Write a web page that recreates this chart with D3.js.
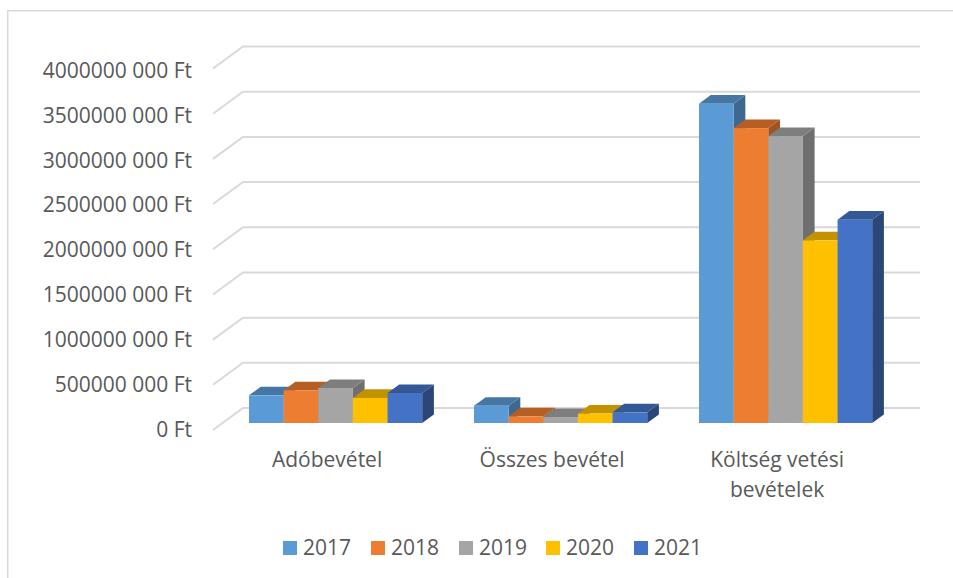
<!DOCTYPE html>
<html>
<head>
<meta charset="utf-8">
<script src="https://cdn.jsdelivr.net/npm/d3@7"></script>
<style>
  html, body { margin: 0; padding: 0; background: #fff; }
  text { font-family: "Open Sans", sans-serif; fill: #595959; }
</style>
</head>
<body>
<div id="chart"></div>
<script>
var categories = [['Adóbevétel'], ['Összes bevétel'], ['Költség vetési', 'bevételek']]
var years      = ['2017', '2018', '2019', '2020', '2021']
var colors     = ['#5b9bd5', '#ed7d31', '#a5a5a5', '#ffc000', '#4472c4']
var topColors  = ['#4676a3', '#b55f25', '#7e7e7e', '#c29200', '#345796']
var sideColors = ['#3e6890', '#a05321', '#6f6f6f', '#ab8100', '#2c4677']

var values2017 = [306000000, 190000000, 3533000000]
var values2018 = [362000000, 74000000, 3263000000]
var values2019 = [387000000, 66000000, 3175000000]
var values2020 = [277000000, 104000000, 2021000000]
var values2021 = [332000000, 118000000, 2250000000]
var allValues  = [values2017, values2018, values2019, values2020, values2021]

var tickValues = [0, 500000000, 1000000000, 1500000000, 2000000000, 2500000000, 3000000000, 3500000000, 4000000000]

var width = 953
var height = 578

var svg = d3.select('#chart')
  .append('svg')
    .attr('width', width)
    .attr('height', height)
    .style('display', 'block')

// frame, only top and left are visible in the picture
svg.append('path')
  .attr('d', 'M7.75,578V10.75H953')
  .attr('fill', 'none')
  .attr('stroke', '#d9d9d9')
  .attr('stroke-width', 1.5)

var yBack  = d3.scaleLinear().domain([0, 4000000000]).range([408, 46.5])
var yFront = d3.scaleLinear().domain([0, 4000000000]).range([430, 68.5])
var yBar   = d3.scaleLinear().domain([0, 4000000000]).range([423, 61.5])
var yLabel = d3.scaleLinear().domain([0, 4000000000]).range([436.5, 78])

var x0 = d3.scaleBand().domain(d3.range(categories.length)).range([223.5, 898.5])
var x1 = d3.scaleBand().domain(d3.range(years.length)).range([25.5, 198.7])

// gridlines: floor/wall fold then the back wall
tickValues.forEach(function(t) {
  svg.append('path')
    .attr('d', d3.line()([[213, yFront(t)], [243, yBack(t)], [920, yBack(t)]]))
    .attr('fill', 'none')
    .attr('stroke', '#d9d9d9')
    .attr('stroke-width', 2)
})

svg.selectAll('.tick-label')
  .data(tickValues)
  .enter().append('text')
    .attr('class', 'tick-label')
    .attr('x', 192)
    .attr('y', function(d) { return yLabel(d) })
    .attr('text-anchor', 'end')
    .attr('font-size', 21)
    .text(function(d) {
      if (d === 0) return '0 Ft'
      var s = String(d)
      return s.slice(0, -3) + ' ' + s.slice(-3) + ' Ft'
    })

var depthX = 11.7
var depthY = 8.6

// bars, drawn series by series in each category so the later one covers the side of the earlier one
categories.forEach(function(c, i) {
  years.forEach(function(yr, j) {
    var v = allValues[j][i]
    var left = x0(i) + x1(j)
    var right = left + x1.bandwidth()
    var top = yBar(v)
    var bottom = yBar(0)
    var g = svg.append('g')
    g.append('path')
      .attr('d', d3.line()([[right, top], [right + depthX, top - depthY], [right + depthX, bottom - depthY], [right, bottom]]) + 'Z')
      .attr('fill', sideColors[j])
    g.append('path')
      .attr('d', d3.line()([[left, top], [left + depthX, top - depthY], [right + depthX, top - depthY], [right, top]]) + 'Z')
      .attr('fill', topColors[j])
    g.append('rect')
      .attr('x', left)
      .attr('y', top)
      .attr('width', x1.bandwidth())
      .attr('height', bottom - top)
      .attr('fill', colors[j])
  })
})

// category labels
categories.forEach(function(c, i) {
  var cx = x0(i) + x1(2) + x1.bandwidth() / 2 - 8.5
  var t = svg.append('text')
    .attr('x', cx)
    .attr('y', 466.5)
    .attr('text-anchor', 'middle')
    .attr('font-size', 21)
  c.forEach(function(line, k) {
    t.append('tspan')
      .attr('x', cx)
      .attr('dy', k === 0 ? 0 : 30.5)
      .text(line)
  })
})

// legend
var legendX = [283, 371, 459, 546, 634]
years.forEach(function(yr, j) {
  svg.append('rect')
    .attr('x', legendX[j])
    .attr('y', 541)
    .attr('width', 14)
    .attr('height', 14)
    .attr('fill', colors[j])
  svg.append('text')
    .attr('x', legendX[j] + 20)
    .attr('y', 555)
    .attr('font-size', 21)
    .text(yr)
})
</script>
</body>
</html>
